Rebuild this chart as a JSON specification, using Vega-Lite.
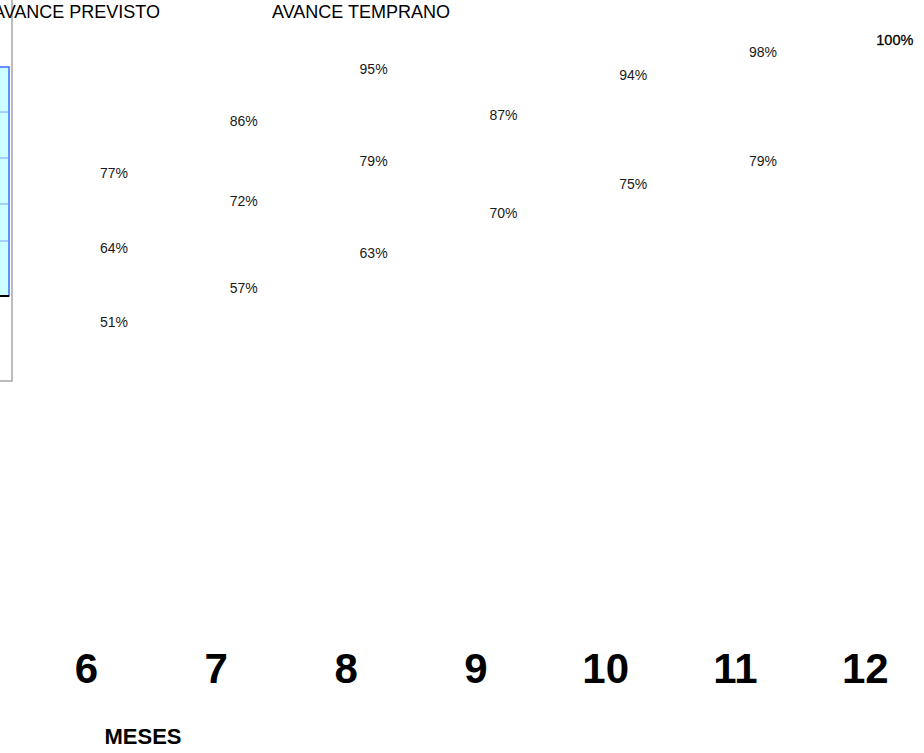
{
  "$schema": "https://vega.github.io/schema/vega-lite/v6.json",
  "width": 924,
  "height": 620,
  "autosize": {"type": "none"},
  "padding": {"left": 0, "top": 0, "right": 0, "bottom": 133},
  "background": "white",
  "config": {
    "view": {"stroke": null},
    "font": "Liberation Sans"
  },
  "datasets": {
    "avance": [
      {"mes": 6, "valor": 0.77, "serie": "AVANCE TEMPRANO"},
      {"mes": 7, "valor": 0.86, "serie": "AVANCE TEMPRANO"},
      {"mes": 8, "valor": 0.95, "serie": "AVANCE TEMPRANO"},
      {"mes": 6, "valor": 0.64, "serie": "AVANCE PREVISTO"},
      {"mes": 7, "valor": 0.72, "serie": "AVANCE PREVISTO"},
      {"mes": 8, "valor": 0.79, "serie": "AVANCE PREVISTO"},
      {"mes": 9, "valor": 0.87, "serie": "AVANCE PREVISTO"},
      {"mes": 10, "valor": 0.94, "serie": "AVANCE PREVISTO"},
      {"mes": 11, "valor": 0.98, "serie": "AVANCE PREVISTO"},
      {"mes": 12, "valor": 1.0, "serie": "AVANCE PREVISTO"},
      {"mes": 6, "valor": 0.51, "serie": "AVANCE TARDÍO"},
      {"mes": 7, "valor": 0.57, "serie": "AVANCE TARDÍO"},
      {"mes": 8, "valor": 0.63, "serie": "AVANCE TARDÍO"},
      {"mes": 9, "valor": 0.70, "serie": "AVANCE TARDÍO"},
      {"mes": 10, "valor": 0.75, "serie": "AVANCE TARDÍO"},
      {"mes": 11, "valor": 0.79, "serie": "AVANCE TARDÍO"}
    ],
    "marco": [
      {"x1": 4.5, "x2": 5.43, "y1": 1.2, "y2": 0.4102}
    ],
    "tabla": [
      {"x1": 5.0, "x2": 5.407, "y1": 0.9549, "y2": 0.5577}
    ],
    "lineasTabla": [
      {"x1": 5.0, "x2": 5.407, "y": 0.8768},
      {"x1": 5.0, "x2": 5.407, "y": 0.7971},
      {"x1": 5.0, "x2": 5.407, "y": 0.7173},
      {"x1": 5.0, "x2": 5.407, "y": 0.6531}
    ],
    "baseTabla": [
      {"x1": 5.0, "x2": 5.407, "y": 0.5577}
    ]
  },
  "layer": [
    {
      "data": {"name": "avance"},
      "transform": [{"filter": "datum.mes < 12"}],
      "mark": {"type": "text", "fontSize": 14, "dx": 28, "align": "center", "baseline": "middle"},
      "encoding": {
        "x": {
          "field": "mes",
          "type": "quantitative",
          "title": "MESES",
          "scale": {"domain": [5.3375, 12.456], "nice": false, "zero": false},
          "axis": {
            "values": [6, 7, 8, 9, 10, 11, 12],
            "format": "d",
            "ticks": false,
            "domain": false,
            "grid": false,
            "labelFont": "Liberation Sans",
            "labelFontSize": 42,
            "labelFontWeight": "bold",
            "labelColor": "#000000",
            "labelPadding": 29,
            "labelFlush": false,
            "labelOverlap": false,
            "titleFont": "Liberation Sans",
            "titleFontSize": 22,
            "titleFontWeight": "bold",
            "titleColor": "#000000",
            "titleAnchor": "start",
            "titleAlign": "left",
            "titleBaseline": "alphabetic",
            "titleX": 104,
            "titleY": 123
          }
        },
        "y": {"field": "valor", "type": "quantitative", "scale": {"domain": [-0.0043, 1.0711], "nice": false, "zero": false}, "axis": null},
        "text": {"field": "valor", "type": "quantitative", "format": ".0%"},
        "color": {
          "field": "serie",
          "type": "nominal",
          "scale": {"domain": ["AVANCE TARDÍO", "AVANCE PREVISTO", "AVANCE TEMPRANO"], "range": ["#1a1a1a", "#1a1a1a", "#1a1a1a"]},
          "legend": {
            "orient": "none",
            "direction": "horizontal",
            "legendX": -284,
            "legendY": 4,
            "title": null,
            "symbolOpacity": 0,
            "symbolStrokeWidth": 0,
            "symbolSize": 100,
            "labelFont": "Liberation Sans",
            "labelFontSize": 18,
            "labelColor": "#000000",
            "labelLimit": 400,
            "columnPadding": 89
          }
        }
      }
    },
    {
      "data": {"name": "avance"},
      "transform": [{"filter": "datum.mes == 12"}],
      "mark": {"type": "text", "fontSize": 14.5, "dx": 30, "align": "center", "baseline": "middle", "color": "#000000", "stroke": "#000000", "strokeWidth": 0.3},
      "encoding": {
        "x": {"field": "mes", "type": "quantitative", "title": "MESES"},
        "y": {"field": "valor", "type": "quantitative", "axis": null},
        "text": {"field": "valor", "type": "quantitative", "format": ".0%"}
      }
    },
    {
      "data": {"name": "marco"},
      "mark": {"type": "rect", "fill": null, "stroke": "#a6a6a6", "strokeWidth": 1.5},
      "encoding": {
        "x": {"field": "x1", "type": "quantitative", "title": "MESES"},
        "x2": {"field": "x2"},
        "y": {"field": "y1", "type": "quantitative", "axis": null},
        "y2": {"field": "y2"}
      }
    },
    {
      "data": {"name": "tabla"},
      "mark": {"type": "rect", "fill": "#ccffff", "stroke": "#3d6bff", "strokeWidth": 1.5},
      "encoding": {
        "x": {"field": "x1", "type": "quantitative", "title": "MESES"},
        "x2": {"field": "x2"},
        "y": {"field": "y1", "type": "quantitative", "axis": null},
        "y2": {"field": "y2"}
      }
    },
    {
      "data": {"name": "lineasTabla"},
      "mark": {"type": "rule", "stroke": "#7f9cff", "strokeWidth": 1},
      "encoding": {
        "x": {"field": "x1", "type": "quantitative", "title": "MESES"},
        "x2": {"field": "x2"},
        "y": {"field": "y", "type": "quantitative", "axis": null}
      }
    },
    {
      "data": {"name": "baseTabla"},
      "mark": {"type": "rule", "stroke": "#000000", "strokeWidth": 2},
      "encoding": {
        "x": {"field": "x1", "type": "quantitative", "title": "MESES"},
        "x2": {"field": "x2"},
        "y": {"field": "y", "type": "quantitative", "axis": null}
      }
    }
  ]
}
